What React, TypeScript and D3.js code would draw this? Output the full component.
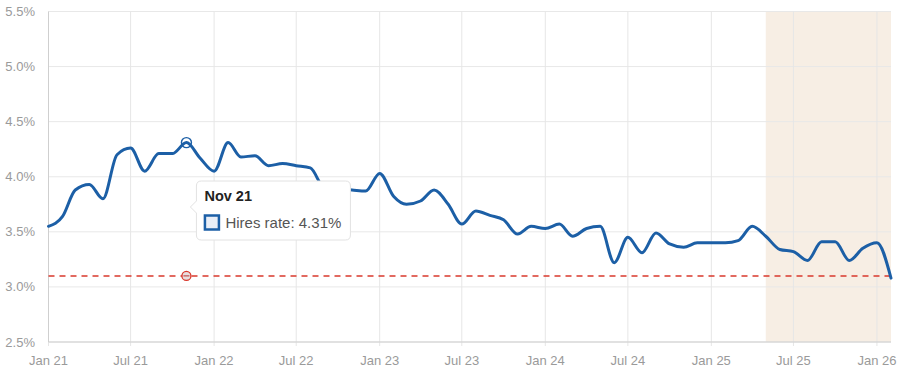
import React from "react";
import * as d3 from "d3";

const startYear = 2021;
const hiresRate: number[] = [
  3.55, 3.64, 3.88, 3.93, 3.80, 4.20, 4.26, 4.05, 4.21, 4.21, 4.31, 4.17,
  4.05, 4.31, 4.18, 4.19, 4.10, 4.12, 4.10, 4.08, 3.90, 3.89, 3.88, 3.87,
  4.03, 3.82, 3.75, 3.78, 3.88, 3.75, 3.57, 3.69, 3.65, 3.61, 3.48, 3.55,
  3.53, 3.57, 3.46, 3.53, 3.55, 3.22, 3.45, 3.31, 3.49, 3.39, 3.36, 3.40,
  3.40, 3.40, 3.42, 3.55, 3.46, 3.34, 3.32, 3.24, 3.41, 3.41, 3.24, 3.35,
  3.40, 3.08,
];
const referenceValue = 3.1;
const yTicks = [2.5, 3.0, 3.5, 4.0, 4.5, 5.0, 5.5];
const xTickLabels = ["Jan 21", "Jul 21", "Jan 22", "Jul 22", "Jan 23", "Jul 23", "Jan 24", "Jul 24", "Jan 25", "Jul 25", "Jan 26"];
const shadeStartIndex = 52; // May 25
const hoverIndex = 10; // Nov 21
const hoverLabel = "Nov 21";
const seriesName = "Hires rate";

const W = 900, H = 375;
const L = 48.5, R = 891, T = 11.5, B = 342;

export default function App() {
  const dates = hiresRate.map((_, i) => new Date(startYear, i, 1));
  const x = d3.scaleTime().domain([dates[0], dates[dates.length - 1]]).range([L, R]);
  const y = d3.scaleLinear().domain([2.5, 5.5]).range([B, T]);
  const tickDates = xTickLabels.map((_, i) => new Date(startYear, i * 6, 1));
  const line = d3.line<number>()
    .x((_, i) => x(dates[i]))
    .y((d) => y(d))
    .curve(d3.curveMonotoneX);
  const font = "'Liberation Sans', Arial, sans-serif";
  const hx = x(dates[hoverIndex]);
  const hy = y(hiresRate[hoverIndex]);
  const ry = y(referenceValue);
  const tipX = hx + 10, tipY = 181, tipW = 154, tipH = 59;

  return (
    <svg width={W} height={H} style={{ position: "absolute", left: 0, top: 0, background: "#fff" }} fontFamily={font}>
      <rect x={x(dates[shadeStartIndex])} y={T} width={R - x(dates[shadeStartIndex])} height={B - T} fill="#f7eee4" />
      {yTicks.map((t) => (
        <line key={t} x1={L} x2={R} y1={y(t)} y2={y(t)} stroke="#e8e8e8" strokeWidth={1} />
      ))}
      {tickDates.map((d, i) => (
        <line key={i} x1={x(d)} x2={x(d)} y1={T} y2={B + 4} stroke="#e6e6e6" strokeWidth={1} />
      ))}
      <line x1={L} x2={L} y1={T} y2={B} stroke="#cfcfcf" strokeWidth={1} />
      <line x1={L} x2={R} y1={B} y2={B} stroke="#cfcfcf" strokeWidth={1} />
      {yTicks.map((t) => (
        <text key={t} x={35} y={y(t) + 4.5} textAnchor="end" fontSize={13} fill="#9a9a9a">
          {t.toFixed(1)}%
        </text>
      ))}
      {tickDates.map((d, i) => (
        <text key={i} x={x(d)} y={365} textAnchor="middle" fontSize={13} fill="#9a9a9a">
          {xTickLabels[i]}
        </text>
      ))}
      <line x1={L} x2={R} y1={ry} y2={ry} stroke="#d9382c" strokeWidth={1.5} strokeDasharray="6,5" />
      <path d={line(hiresRate) || ""} fill="none" stroke="#1c5fa6" strokeWidth={3} strokeLinejoin="round" strokeLinecap="round" />
      <circle cx={hx} cy={hy} r={5} fill="none" stroke="#1c5fa6" strokeWidth={1.4} />
      <circle cx={hx} cy={ry} r={4.5} fill="#e8dede" stroke="#d9382c" strokeWidth={1.3} />
      <line x1={hx - 3} x2={hx + 3} y1={ry} y2={ry} stroke="#b33" strokeWidth={1} />
      <g>
        <path
          d={`M${tipX + 5},${tipY} H${tipX + tipW - 5} Q${tipX + tipW},${tipY} ${tipX + tipW},${tipY + 5} V${tipY + tipH - 5} Q${tipX + tipW},${tipY + tipH} ${tipX + tipW - 5},${tipY + tipH} H${tipX + 5} Q${tipX},${tipY + tipH} ${tipX},${tipY + tipH - 5} V${tipY + 32} L${tipX - 6},${tipY + 26} L${tipX},${tipY + 20} V${tipY + 5} Q${tipX},${tipY} ${tipX + 5},${tipY} Z`}
          fill="#fff" stroke="#e2e2e2" strokeWidth={1}
        />
        <text x={tipX + 8} y={tipY + 20} fontSize={14.5} fontWeight="bold" fill="#222">{hoverLabel}</text>
        <rect x={tipX + 8.5} y={tipY + 34.5} width={14} height={14} fill="#e9eef7" stroke="#1c5fa6" strokeWidth={2.5} />
        <text x={tipX + 29} y={tipY + 47} fontSize={15} fill="#555">
          {seriesName}: {hiresRate[hoverIndex].toFixed(2)}%
        </text>
      </g>
    </svg>
  );
}
